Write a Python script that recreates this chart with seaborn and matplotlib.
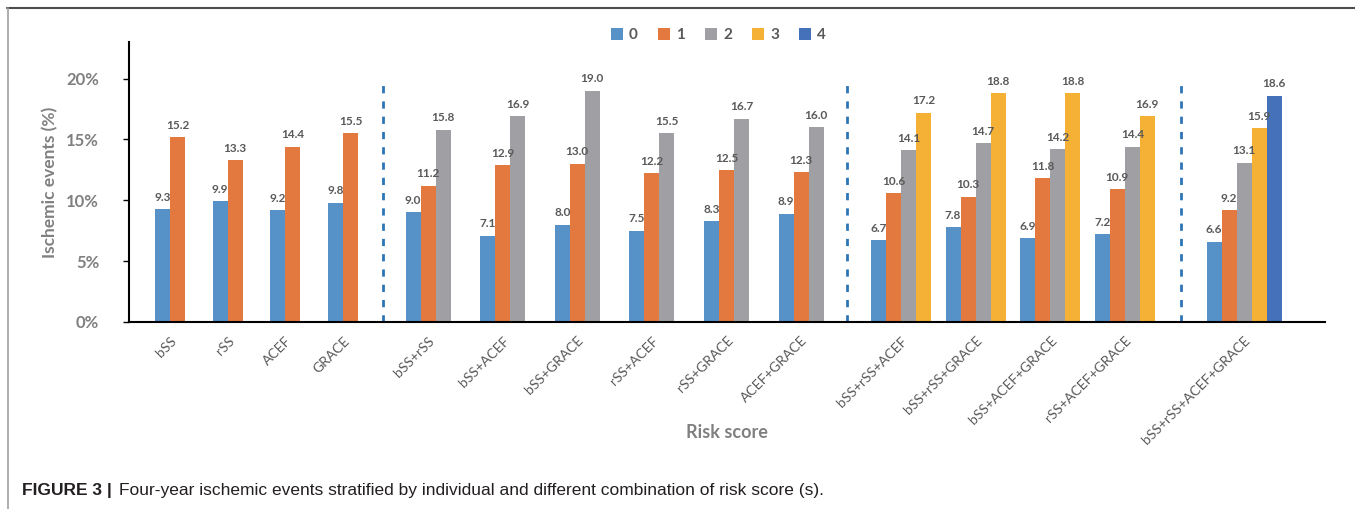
import numpy as np
import pandas as pd
import matplotlib
matplotlib.use("Agg")
import matplotlib.pyplot as plt
import seaborn as sns
from matplotlib.lines import Line2D
from matplotlib.patches import Patch

# ---- data -------------------------------------------------------------
categories = ["bSS", "rSS", "ACEF", "GRACE",
              "bSS+rSS", "bSS+ACEF", "bSS+GRACE", "rSS+ACEF", "rSS+GRACE", "ACEF+GRACE",
              "bSS+rSS+ACEF", "bSS+rSS+GRACE", "bSS+ACEF+GRACE", "rSS+ACEF+GRACE",
              "bSS+rSS+ACEF+GRACE"]
levels = ["0", "1", "2", "3", "4"]
# ischemic event rate (%) by number of high-risk scores
rate_0 = [9.3, 9.9, 9.2, 9.8, 9.0, 7.1, 8.0, 7.5, 8.3, 8.9, 6.7, 7.8, 6.9, 7.2, 6.6]
rate_1 = [15.2, 13.3, 14.4, 15.5, 11.2, 12.9, 13.0, 12.2, 12.5, 12.3, 10.6, 10.3, 11.8, 10.9, 9.2]
rate_2 = [None] * 4 + [15.8, 16.9, 19.0, 15.5, 16.7, 16.0, 14.1, 14.7, 14.2, 14.4, 13.1]
rate_3 = [None] * 10 + [17.2, 18.8, 18.8, 16.9, 15.9]
rate_4 = [None] * 14 + [18.6]
y_ticks = [0, 5, 10, 15, 20]

# ---- layout / style -----------------------------------------------------
block_of = [0] * 4 + [1] * 6 + [2] * 4 + [3]
BLOCK_FIRST = [41.0, 299.0, 772.0, 1115.0]   # centre of first group in each block
BLOCK_STEP = [57.7, 74.6, 74.6, 0.0]         # spacing between groups in a block
DIVIDERS = [253.5, 718.0, 1052.0]
BAR_W = 15.0
X_MAX = 1196.0
Y_MAX = 23.0
colors = ["#5691C8", "#E3793F", "#A0A0A4", "#F4B135", "#4471B9"]

W, H, DPI = 1355, 509, 100

sns.set_theme(style="white")
plt.rcParams["font.family"] = ["Lato", "DejaVu Sans"]

# group centres
centres = []
counter = {}
for b in block_of:
    k = counter.get(b, 0)
    centres.append(BLOCK_FIRST[b] + k * BLOCK_STEP[b])
    counter[b] = k + 1

series = [rate_0, rate_1, rate_2, rate_3, rate_4]
rows = []
for i, cat in enumerate(categories):
    vals = [(lv, s[i]) for lv, s in zip(levels, series) if s[i] is not None]
    n = len(vals)
    for j, (lv, v) in enumerate(vals):
        rows.append({"category": cat, "level": lv, "rate": v,
                     "x": centres[i] + (j - (n - 1) / 2) * BAR_W})
df = pd.DataFrame(rows)

fig = plt.figure(figsize=(W / DPI, H / DPI), dpi=DPI)
ax = fig.add_axes([129 / W, (H - 322) / H, (1325 - 129) / W, (322 - 42) / H])

sns.barplot(data=df, x="x", y="rate", hue="level", hue_order=levels,
            palette=colors, native_scale=True, dodge=False, width=1.0,
            errorbar=None, saturation=1, orient="x", linewidth=0,
            legend=False, ax=ax)

for cont in ax.containers:
    ax.bar_label(cont, fmt="{:.1f}", padding=4.5, fontsize=8.5, fontweight="bold",
                 color="#595959")

# dashed separators between score-combination blocks
ax.vlines(DIVIDERS, 0, 20, colors="#2E75B6", linewidth=2.0,
          linestyles=(0, (2.6, 2.9)))

ax.set_xlim(0, X_MAX)
ax.set_ylim(0, Y_MAX)
ax.set_yticks(y_ticks)
ax.set_yticklabels([f"{t}%" for t in y_ticks], fontsize=12, fontweight="bold",
                   color="#808080")
ax.set_xticks(centres)
ax.set_xticklabels(categories, rotation=45, ha="right", va="top",
                   rotation_mode="anchor", fontsize=10, color="#595959")
ax.tick_params(axis="x", length=0, pad=9)
ax.tick_params(axis="y", length=4.5, width=1.0, color="#000000", pad=17,
               direction="out", left=True)
ax.set_xlabel("")
ax.set_ylabel("")
for side in ("top", "right"):
    ax.spines[side].set_visible(False)
for side in ("left", "bottom"):
    ax.spines[side].set_color("#000000")
    ax.spines[side].set_linewidth(1.5)

fig.text(50 / W, 1 - 182 / H, "Ischemic events (%)", rotation=90, ha="center",
         va="center", fontsize=12.5, fontweight="bold", color="#808080")
fig.text(727 / W, 1 - 432 / H, "Risk score", ha="center", va="center",
         fontsize=13, fontweight="bold", color="#808080")

handles = [Patch(facecolor=c, edgecolor="none") for c in colors]
fig.legend(handles, levels, loc="center", bbox_to_anchor=(718.5 / W, 1 - 35 / H),
           ncol=5, frameon=False, handlelength=0.8, handleheight=0.8,
           handletextpad=0.4, columnspacing=1.3,
           prop={"size": 11, "weight": "bold"}, labelcolor="#595959")

# frame lines around the figure panel
fig.add_artist(Line2D([7 / W, 1], [1 - 8 / H, 1 - 8 / H], transform=fig.transFigure,
                      color="#4D4D4D", linewidth=1.5))
fig.add_artist(Line2D([8 / W, 8 / W], [0, 1 - 8 / H], transform=fig.transFigure,
                      color="#A0A0A0", linewidth=1.2))

# caption
cap_font = ["Liberation Sans", "DejaVu Sans"]
t1 = fig.text(22 / W, 1 - 491 / H, "FIGURE 3 |", ha="left", va="center",
              fontsize=12.5, fontweight="bold", color="#231F20", family=cap_font)
fig.canvas.draw()
bb = t1.get_window_extent(renderer=fig.canvas.get_renderer())
fig.text((bb.x1 + 7) / W, 1 - 491 / H,
         "Four-year ischemic events stratified by individual and different "
         "combination of risk score (s).",
         ha="left", va="center", fontsize=12.5, color="#231F20", family=cap_font)

fig.savefig("out.png", dpi=DPI)
